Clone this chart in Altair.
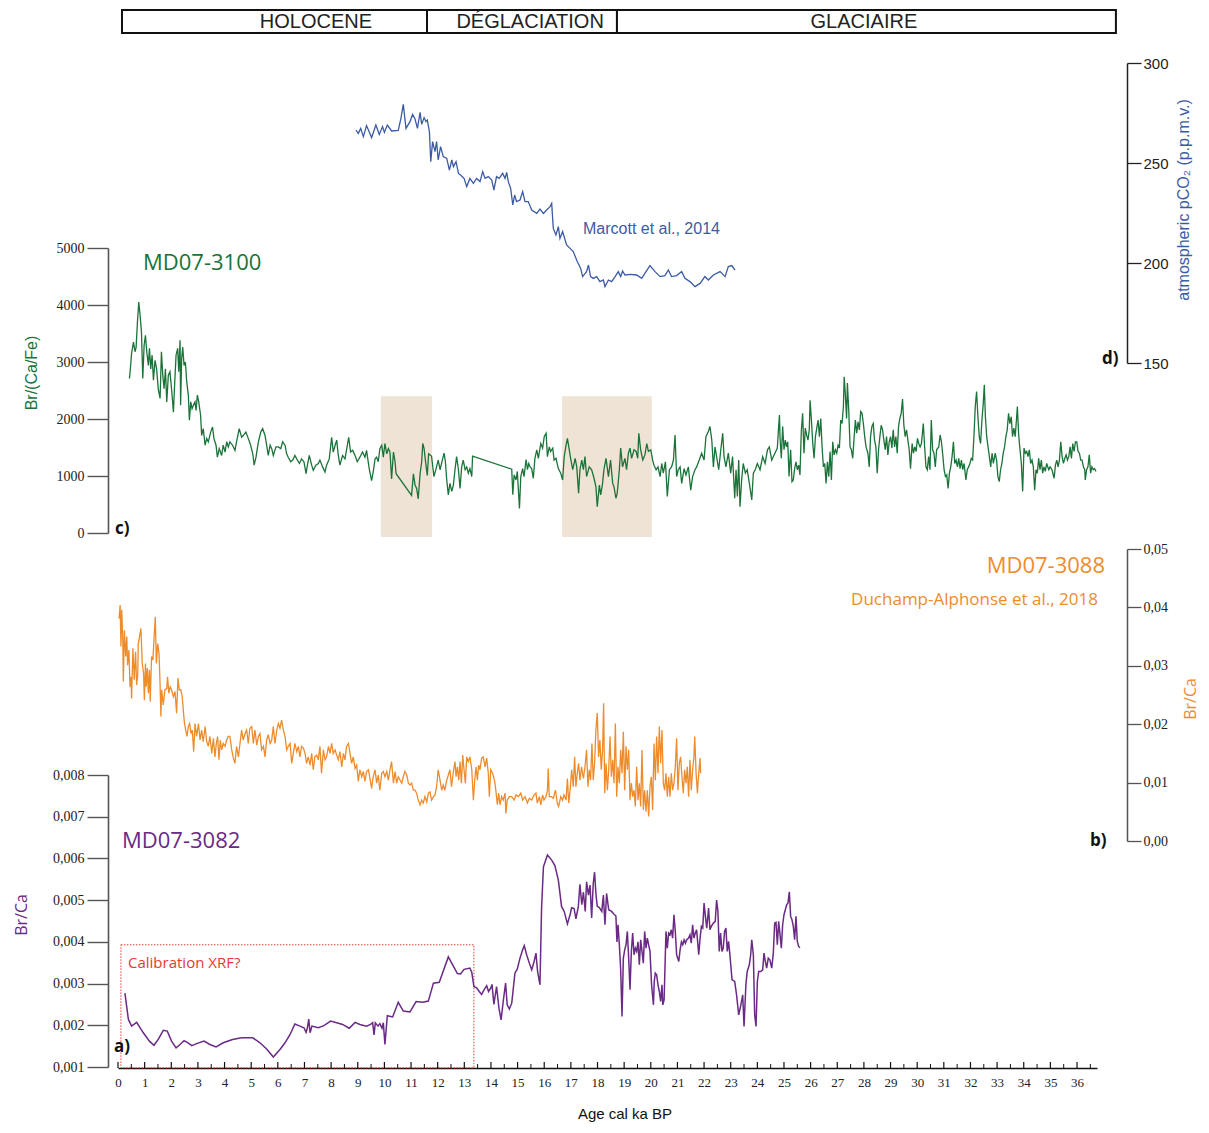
import altair as alt
import pandas as pd

# ---------------- data (age in ka cal BP, value) ----------------
co2_marcott = [(8.93,266.5),(9.02,264.8),(9.11,267.3),(9.21,263.2),(9.33,268.7),(9.52,262.7),(9.68,269.0),(9.81,264.3),(9.93,268.2),(10.00,265.3),(10.11,269.0),(10.27,266.0),(10.52,266.3),(10.62,272.3),(10.71,279.3),(10.81,267.3),(10.96,270.7),(11.06,274.3),(11.15,272.0),(11.24,267.3),(11.34,275.3),(11.40,269.3),(11.49,272.7),(11.56,270.7),(11.61,271.5),(11.69,265.7),(11.74,250.7),(11.81,260.7),(11.90,255.7),(11.96,260.7),(12.02,251.5),(12.11,258.2),(12.21,253.2),(12.34,252.3),(12.44,246.5),(12.53,251.5),(12.59,248.2),(12.69,250.7),(12.78,244.8),(12.86,244.0),(12.99,242.3),(13.09,238.2),(13.21,242.3),(13.34,239.8),(13.46,242.3),(13.59,240.7),(13.69,245.7),(13.78,242.3),(13.90,243.2),(14.03,241.5),(14.11,236.5),(14.21,243.2),(14.31,242.3),(14.44,244.8),(14.53,242.3),(14.59,245.3),(14.65,240.7),(14.74,237.3),(14.82,229.0),(14.89,234.0),(14.96,230.7),(15.09,231.5),(15.19,235.7),(15.28,230.7),(15.40,230.7),(15.53,226.5),(15.72,224.8),(15.84,227.0),(15.97,224.8),(16.09,226.5),(16.22,228.2),(16.28,229.8),(16.34,217.3),(16.44,214.0),(16.53,218.2),(16.59,212.3),(16.69,215.7),(16.84,209.0),(16.97,207.3),(17.09,205.7),(17.24,200.7),(17.37,197.3),(17.44,193.2),(17.59,195.7),(17.66,199.0),(17.74,193.2),(17.84,192.3),(17.97,193.2),(18.09,190.7),(18.22,191.5),(18.28,188.2),(18.41,191.5),(18.53,190.7),(18.66,193.2),(18.78,195.7),(18.87,193.2),(18.94,196.0),(19.03,194.0),(19.22,194.3),(19.47,194.0),(19.66,192.3),(19.82,195.7),(19.97,198.7),(20.16,195.7),(20.35,193.2),(20.53,193.7),(20.66,196.5),(20.78,193.2),(20.97,193.7),(21.16,195.7),(21.28,192.3),(21.47,190.7),(21.66,188.2),(21.85,189.8),(22.03,193.2),(22.16,191.5),(22.35,194.0),(22.60,195.7),(22.79,193.2),(22.91,198.2),(23.04,198.7),(23.16,196.5)]

md3100_brcafe = [(0.43,2710),(0.48,2970),(0.51,3150),(0.58,3350),(0.64,3180),(0.68,3260),(0.73,3700),(0.78,4050),(0.83,3820),(0.88,3530),(0.93,2710),(0.98,3290),(1.03,3470),(1.08,3180),(1.14,2940),(1.18,3240),(1.23,2880),(1.28,3120),(1.33,2680),(1.39,3030),(1.45,2880),(1.51,2530),(1.58,2360),(1.63,3180),(1.68,2770),(1.73,2530),(1.78,2880),(1.83,2300),(1.89,2770),(1.95,2830),(2.01,2530),(2.08,2120),(2.13,2650),(2.18,3120),(2.24,3240),(2.28,2830),(2.33,3380),(2.35,2240),(2.39,3060),(2.43,3260),(2.48,2940),(2.53,3000),(2.58,2650),(2.64,2420),(2.68,1980),(2.73,2300),(2.78,2180),(2.83,2240),(2.89,2300),(2.93,2150),(2.98,2420),(3.03,2300),(3.10,2070),(3.14,1710),(3.20,1830),(3.27,1540),(3.33,1660),(3.39,1600),(3.48,1770),(3.55,1860),(3.60,1660),(3.68,1540),(3.73,1330),(3.80,1480),(3.89,1360),(3.95,1540),(4.02,1420),(4.08,1600),(4.14,1510),(4.20,1600),(4.30,1540),(4.39,1450),(4.45,1600),(4.55,1830),(4.64,1680),(4.70,1710),(4.80,1770),(4.89,1660),(4.98,1540),(5.06,1390),(5.11,1190),(5.18,1330),(5.27,1600),(5.36,1770),(5.43,1830),(5.52,1710),(5.58,1540),(5.64,1360),(5.71,1540),(5.77,1480),(5.83,1360),(5.93,1510),(6.02,1510),(6.11,1480),(6.18,1600),(6.27,1540),(6.33,1390),(6.39,1330),(6.48,1250),(6.56,1280),(6.64,1360),(6.71,1300),(6.81,1220),(6.89,1300),(6.98,1250),(7.06,1040),(7.11,1190),(7.18,1360),(7.27,1190),(7.33,1100),(7.43,1190),(7.52,1220),(7.58,1280),(7.68,1160),(7.77,1070),(7.83,1190),(7.93,1300),(8.02,1680),(8.08,1420),(8.15,1540),(8.21,1630),(8.27,1360),(8.33,1190),(8.43,1360),(8.52,1300),(8.61,1540),(8.66,1680),(8.73,1420),(8.81,1450),(8.90,1360),(8.98,1250),(9.08,1330),(9.18,1420),(9.27,1330),(9.33,1450),(9.43,1130),(9.52,920),(9.58,1070),(9.65,1300),(9.71,1330),(9.77,1250),(9.83,1480),(9.90,1540),(9.96,1330),(10.02,1570),(10.09,1390),(10.15,1480),(10.21,1420),(10.27,950),(10.34,1420),(10.40,1250),(10.44,1040),(11.02,660),(11.09,1040),(11.15,840),(11.21,780),(11.27,600),(11.34,1040),(11.40,1250),(11.44,1570),(11.49,1480),(11.56,1190),(11.61,1010),(11.66,1390),(11.74,1360),
(11.77,1350),(11.86,990),(11.94,1130),(12.02,1280),(12.09,1110),(12.19,1310),(12.24,1400),(12.29,1250),(12.34,930),(12.40,670),(12.46,870),(12.53,730),(12.59,840),(12.65,1110),(12.71,1340),(12.78,1110),(12.84,780),(12.90,1160),(12.96,1280),(13.03,1110),(13.09,1160),(13.15,1050),(13.21,1130),(13.28,990),(13.31,1350),(14.78,1120),(14.82,670),(14.87,1020),(14.94,930),(14.99,1080),(15.07,430),(15.12,990),(15.19,1130),(15.24,990),(15.32,1290),(15.37,1110),(15.42,1220),(15.47,1160),(15.53,1130),(15.59,960),(15.65,1310),(15.72,1460),(15.78,1310),(15.87,1570),(15.94,1490),(16.00,1690),(16.07,1750),(16.12,1340),(16.19,1510),(16.24,1430),(16.32,1490),(16.37,1280),(16.44,1310),(16.53,1130),(16.62,1050),(16.69,930),(16.75,1340),(16.82,1540),(16.87,1660),(16.94,1460),(16.99,1310),(17.07,1110),(17.16,1310),(17.22,1160),(17.29,700),(17.34,1110),(17.41,1280),(17.47,1110),(17.53,1340),(17.59,990),(17.69,1160),(17.78,1110),(17.87,960),(17.94,810),(17.99,460),(18.07,840),(18.12,670),(18.19,870),(18.24,1110),(18.32,1310),(18.41,990),(18.49,1280),(18.57,870),(18.62,810),(18.69,610),(18.74,700),(18.82,1110),(18.87,1490),(18.94,1160),(19.03,1310),(19.09,1110),(19.16,1400),(19.22,1490),(19.28,1310),(19.37,1460),(19.45,1430),(19.51,1310),(19.55,1750),(19.62,1460),(19.70,1280),(19.78,1370),(19.85,1570),(19.91,1430),(20.00,1460),(20.07,1280),(20.12,1190),(20.20,1110),(20.27,1160),(20.35,990),(20.41,1220),(20.47,1050),(20.55,1250),(20.62,640),(20.70,1110),(20.78,1160),(20.85,1280),(20.91,1720),(20.97,990),(21.03,1110),(21.10,1160),(21.16,870),(21.25,1130),(21.32,1020),(21.41,1160),(21.50,750),(21.57,990),(21.66,1110),(21.72,1160),(21.82,1280),(21.91,1400),(22.00,1280),(22.07,1690),(22.16,1780),(22.22,1870),(22.29,1630),(22.35,1160),(22.41,1510),(22.47,1340),(22.55,1110),(22.62,1430),(22.70,1750),(22.75,1340),(22.82,1160),(22.91,1400),(23.00,1050),(23.07,1340),(23.15,610),(23.20,1110),(23.25,640),(23.30,1280),(23.35,460),(23.41,930),(23.47,1220),(23.55,1050),(23.62,1110),(23.70,870),(23.79,580),(23.85,1050),(23.92,1110),(24.00,1220),(24.10,1110),(24.20,1340),(24.29,1220),(24.38,1460),(24.45,1510),(24.54,1280),(24.66,1400),(24.75,1490),(24.80,1870),(24.83,2070),
(24.85,1690),(24.90,1310),(24.95,1870),(25.00,1460),(25.05,1630),(25.10,1510),(25.14,1600),(25.19,990),(25.25,1460),(25.30,900),(25.35,930),(25.40,1130),(25.45,1250),(25.50,1110),(25.55,1190),(25.60,1020),(25.65,1780),(25.70,2100),(25.75,1400),(25.80,1840),(25.85,1720),(25.90,1630),(25.95,1810),(25.98,2330),(26.03,1980),(26.08,1570),(26.13,1310),(26.18,1690),(26.23,1840),(26.28,1980),(26.33,1690),(26.38,2010),(26.43,1510),(26.48,1160),(26.53,1220),(26.58,870),(26.63,1250),(26.68,990),(26.73,1430),(26.78,930),(26.83,1600),(26.88,1370),(26.93,1460),(26.98,1400),(27.03,1540),(27.08,1490),(27.13,1980),(27.18,1920),(27.23,2220),(27.26,2740),(27.30,2450),(27.35,2010),(27.38,2630),(27.43,2160),(27.48,1510),(27.53,1460),(27.58,1310),(27.63,1660),(27.68,1980),(27.73,1750),(27.78,1950),(27.83,1810),(27.88,2130),(27.93,2100),(27.98,1920),(28.03,1690),(28.08,1510),(28.15,1400),(28.20,1160),(28.25,1690),(28.30,1870),(28.35,1920),(28.40,1630),(28.45,1510),(28.50,1050),(28.55,1460),(28.60,1690),(28.65,1890),(28.70,1810),(28.75,1630),(28.80,1460),(28.85,1690),(28.90,1370),(28.95,1600),(29.00,1690),(29.05,1490),(29.10,1810),(29.15,1510),(29.20,1690),(29.25,1400),(29.30,1870),(29.35,2010),(29.40,2100),(29.45,2350),(29.50,1890),(29.55,1690),(29.60,1810),(29.65,1630),(29.70,1460),(29.75,1130),(29.81,1570),(29.86,1400),(29.91,1510),(29.96,1430),(30.01,1660),(30.06,1570),(30.11,1510),(30.16,1570),(30.23,1920),(30.28,1510),(30.33,1160),(30.38,1110),(30.43,1340),(30.48,1110),(30.53,1980),(30.58,1460),(30.63,1400),(30.68,1160),(30.73,1460),(30.81,1510),(30.86,1720),(30.91,1600),(30.96,1370),(31.01,1110),(31.06,990),(31.11,1020),(31.16,780),(31.21,1050),(31.26,1160),(31.31,1340),(31.36,1600),(31.41,1220),(31.46,1280),(31.51,1160),(31.56,1310),(31.61,1130),(31.66,1280),(31.71,1110),(31.76,1220),(31.83,930),(31.88,1110),(31.93,1160),(31.98,1220),(32.03,1310),(32.08,1280),(32.13,1690),(32.18,2220),(32.23,2480),(32.28,2040),(32.33,1690),(32.38,1570),(32.43,1980),(32.48,2270),(32.52,2600),(32.56,2040),(32.61,1690),(32.66,1510),(32.71,1340),(32.76,1160),(32.81,1400),(32.86,1220),(32.93,1400),(32.98,1280),(33.03,990),(33.08,900),(33.13,1110),(33.18,1220),(33.23,1400),(33.28,1510),(33.33,1690),(33.38,1810),(33.43,2100),(33.48,1920),(33.53,2040),(33.58,1690),(33.63,1840),(33.68,1690),(33.73,2010),(33.76,2220),(33.81,1720),(33.86,1460),(33.91,1220),(33.96,730),(34.01,1490),(34.06,1400),(34.11,1430),(34.16,1340),(34.21,1460),(34.26,1220),(34.31,1280),(34.36,1160),(34.41,750),(34.46,1110),(34.51,1050),(34.56,1310),(34.61,1110),(34.66,1280),(34.71,1050),(34.76,1160),(34.81,1080),(34.86,1220),(34.94,1110),(34.99,1160),(35.06,1110),(35.14,960),(35.19,1190),(35.24,1280),(35.29,1160),(35.34,1280),(35.39,1600),(35.44,1340),(35.49,1220),(35.54,1310),(35.59,1370),(35.64,1280),(35.69,1340),(35.74,1510),(35.79,1310),(35.84,1570),(35.89,1430),(35.94,1600),(35.99,1600),(36.04,1430),(36.09,1400),(36.14,1280),(36.19,1280),(36.24,1160),(36.29,1110),(36.31,930),(36.36,1110),(36.41,1160),(36.46,1370),(36.51,1050),(36.56,1160),(36.61,1110),(36.66,1130),(36.71,1080)]

md3088_brca = [(0.04,0.0381),(0.08,0.0404),(0.11,0.0333),(0.14,0.0396),(0.18,0.0344),(0.20,0.0273),(0.24,0.0361),(0.29,0.0316),(0.33,0.0350),(0.36,0.0301),(0.41,0.0327),(0.45,0.0264),(0.49,0.0281),(0.51,0.0244),(0.56,0.0330),(0.61,0.0276),(0.66,0.0324),(0.70,0.0267),(0.74,0.0284),(0.76,0.0338),(0.81,0.0350),(0.86,0.0364),(0.91,0.0304),(0.96,0.0287),(0.99,0.0241),(1.03,0.0304),(1.06,0.0264),(1.10,0.0296),(1.14,0.0253),(1.18,0.0293),(1.21,0.0239),(1.26,0.0316),(1.31,0.0310),(1.36,0.0353),(1.40,0.0384),(1.44,0.0304),(1.49,0.0338),(1.54,0.0321),(1.58,0.0267),(1.61,0.0213),(1.64,0.0259),(1.70,0.0233),(1.76,0.0259),(1.83,0.0261),(1.86,0.0281),(1.91,0.0253),(1.96,0.0264),(2.01,0.0259),(2.08,0.0247),(2.14,0.0256),(2.20,0.0219),(2.25,0.0279),(2.30,0.0259),(2.36,0.0259),(2.41,0.0247),(2.46,0.0219),(2.49,0.0204),(2.54,0.0190),(2.59,0.0179),(2.64,0.0196),(2.69,0.0201),(2.74,0.0184),(2.79,0.0190),(2.84,0.0153),(2.89,0.0201),(2.95,0.0179),(3.02,0.0201),(3.08,0.0173),(3.14,0.0190),(3.20,0.0170),(3.27,0.0196),(3.33,0.0170),(3.39,0.0162),(3.45,0.0179),(3.52,0.0150),(3.58,0.0176),(3.64,0.0144),(3.69,0.0167),(3.74,0.0179),(3.79,0.0139),(3.84,0.0173),(3.89,0.0156),(3.95,0.0167),(4.02,0.0162),(4.08,0.0173),(4.14,0.0179),(4.20,0.0179),(4.27,0.0156),(4.33,0.0142),(4.39,0.0133),(4.45,0.0162),(4.52,0.0144),(4.58,0.0167),(4.64,0.0190),(4.70,0.0173),(4.77,0.0184),(4.83,0.0190),(4.89,0.0167),(4.95,0.0193),(5.02,0.0196),(5.08,0.0167),(5.14,0.0190),(5.21,0.0164),(5.27,0.0179),(5.33,0.0184),(5.39,0.0156),(5.46,0.0162),(5.52,0.0144),(5.58,0.0173),(5.64,0.0182),(5.71,0.0167),(5.77,0.0173),(5.83,0.0196),(5.89,0.0167),(5.96,0.0190),(6.02,0.0201),(6.08,0.0193),(6.14,0.0207),(6.21,0.0190),(6.27,0.0179),(6.33,0.0156),(6.39,0.0162),(6.46,0.0167),(6.52,0.0133),(6.58,0.0150),(6.64,0.0167),(6.71,0.0153),(6.77,0.0162),(6.83,0.0144),(6.89,0.0162),(6.96,0.0159),(7.02,0.0150),(7.08,0.0133),(7.14,0.0144),(7.21,0.0130),(7.27,0.0150),(7.33,0.0122),(7.39,0.0144),(7.46,0.0147),(7.52,0.0139),(7.58,0.0162),(7.64,0.0116),(7.71,0.0156),(7.77,0.0139),(7.83,0.0144),(7.90,0.0162),(7.96,0.0150),(8.02,0.0167),(8.08,0.0150),(8.15,0.0156),(8.21,0.0147),(8.27,0.0139),(8.33,0.0153),(8.40,0.0127),(8.46,0.0150),(8.52,0.0139),(8.58,0.0162),(8.65,0.0167),(8.71,0.0150),(8.77,0.0133),(8.83,0.0144),(8.90,0.0124),(8.96,0.0130),(9.02,0.0102),(9.08,0.0122),(9.15,0.0110),(9.21,0.0119),(9.27,0.0102),(9.33,0.0119),(9.40,0.0122),(9.46,0.0107),(9.52,0.0090),(9.58,0.0110),(9.65,0.0122),(9.71,0.0099),(9.77,0.0113),(9.83,0.0087),(9.90,0.0116),(9.96,0.0119),(10.02,0.0110),(10.09,0.0119),(10.15,0.0104),(10.21,0.0122),(10.27,0.0136),(10.34,0.0099),(10.40,0.0119),(10.46,0.0099),(10.52,0.0110),(10.59,0.0104),(10.65,0.0099),(10.71,0.0110),(10.77,0.0119),(10.84,0.0113),(10.90,0.0099),(10.96,0.0096),(11.02,0.0099),(11.09,0.0087),(11.15,0.0087),(11.21,0.0082),(11.27,0.0070),(11.34,0.0062),(11.40,0.0070),(11.46,0.0065),(11.52,0.0076),(11.59,0.0067),(11.65,0.0082),(11.71,0.0084),(11.77,0.0070),(11.84,0.0076),(11.90,0.0079),(11.96,0.0093),(12.02,0.0122),(12.09,0.0104),(12.15,0.0087),
(12.21,0.0096),(12.27,0.0087),(12.34,0.0104),(12.40,0.0113),(12.46,0.0122),(12.52,0.0093),(12.59,0.0119),(12.65,0.0136),(12.69,0.0110),(12.74,0.0127),(12.79,0.0104),(12.84,0.0136),(12.89,0.0099),(12.94,0.0147),(12.99,0.0122),(13.04,0.0099),(13.09,0.0144),(13.15,0.0136),(13.21,0.0144),(13.28,0.0122),(13.34,0.0070),(13.39,0.0104),(13.44,0.0127),(13.49,0.0104),(13.54,0.0130),(13.59,0.0122),(13.65,0.0142),(13.71,0.0144),(13.78,0.0127),(13.84,0.0142),(13.90,0.0116),(13.94,0.0076),(13.99,0.0122),(14.06,0.0116),(14.14,0.0102),(14.19,0.0084),(14.24,0.0062),(14.29,0.0082),(14.34,0.0062),(14.40,0.0076),(14.46,0.0070),(14.53,0.0082),(14.56,0.0047),(14.61,0.0070),(14.69,0.0076),(14.78,0.0076),(14.87,0.0070),(14.94,0.0079),(15.03,0.0076),(15.12,0.0082),(15.19,0.0070),(15.28,0.0076),(15.37,0.0065),(15.44,0.0073),(15.53,0.0070),(15.62,0.0079),(15.69,0.0082),(15.74,0.0065),(15.82,0.0076),(15.87,0.0062),(15.94,0.0079),(15.99,0.0070),(16.07,0.0076),(16.12,0.0087),(16.15,0.0124),(16.19,0.0076),(16.27,0.0076),(16.34,0.0073),(16.42,0.0087),(16.49,0.0065),(16.54,0.0059),(16.62,0.0076),(16.69,0.0070),(16.74,0.0079),(16.82,0.0070),(16.87,0.0107),(16.92,0.0065),(16.97,0.0087),(17.03,0.0122),(17.09,0.0093),(17.14,0.0144),(17.19,0.0093),(17.24,0.0116),(17.29,0.0133),(17.34,0.0104),(17.40,0.0127),(17.47,0.0107),(17.53,0.0127),(17.59,0.0156),(17.64,0.0093),(17.69,0.0122),(17.74,0.0104),(17.79,0.0167),(17.84,0.0104),(17.89,0.0133),(17.94,0.0190),(17.99,0.0219),(18.04,0.0144),(18.09,0.0173),(18.14,0.0122),(18.19,0.0156),(18.23,0.0236),(18.27,0.0082),(18.32,0.0133),(18.37,0.0087),(18.42,0.0122),(18.47,0.0179),(18.52,0.0110),(18.57,0.0139),(18.62,0.0099),(18.67,0.0201),(18.72,0.0076),(18.77,0.0127),(18.82,0.0099),(18.87,0.0156),(18.92,0.0116),(18.97,0.0187),(19.02,0.0087),(19.07,0.0162),(19.12,0.0122),(19.17,0.0156),(19.22,0.0070),(19.27,0.0099),(19.32,0.0076),(19.37,0.0087),(19.42,0.0059),(19.47,0.0127),(19.52,0.0070),(19.57,0.0099),(19.62,0.0059),(19.67,0.0156),(19.72,0.0053),(19.77,0.0087),(19.82,0.0050),(19.87,0.0087),(19.92,0.0042),(19.97,0.0093),(20.02,0.0110),(20.07,0.0053),(20.12,0.0167),(20.17,0.0104),(20.22,0.0179),(20.27,0.0116),(20.32,0.0196),(20.37,0.0133),(20.42,0.0190),(20.47,0.0099),(20.52,0.0087),(20.57,0.0116),(20.62,0.0076),(20.67,0.0110),(20.72,0.0076),(20.77,0.0116),(20.82,0.0087),(20.87,0.0099),(20.92,0.0127),(20.97,0.0176),(21.02,0.0087),(21.07,0.0133),(21.12,0.0144),(21.17,0.0110),(21.22,0.0082),(21.27,0.0122),(21.32,0.0099),(21.37,0.0127),(21.42,0.0076),(21.47,0.0139),(21.52,0.0087),(21.57,0.0122),(21.62,0.0144),(21.65,0.0179),(21.70,0.0116),(21.75,0.0082),(21.80,0.0116),(21.85,0.0142),(21.87,0.0116)]

md3082_brca = [(0.26,0.00277),(0.39,0.00214),(0.51,0.00198),(0.70,0.00207),(0.95,0.00182),(1.18,0.00162),(1.35,0.00152),(1.51,0.00166),(1.70,0.00188),(1.85,0.00186),(2.01,0.00162),(2.18,0.00146),(2.33,0.00154),(2.48,0.00163),(2.60,0.00159),(2.77,0.00151),(2.95,0.00156),(3.23,0.00162),(3.45,0.00154),(3.68,0.00148),(3.95,0.00158),(4.30,0.00166),(4.64,0.00170),(5.06,0.00170),(5.33,0.00158),(5.58,0.00143),(5.83,0.00124),(6.08,0.00142),(6.27,0.00158),(6.46,0.00178),(6.64,0.00203),(6.83,0.00198),(6.98,0.00194),(7.06,0.00183),(7.11,0.00194),(7.16,0.00215),(7.21,0.00182),(7.28,0.00198),(7.52,0.00194),(7.73,0.00199),(7.98,0.00210),(8.21,0.00206),(8.43,0.00202),(8.68,0.00193),(8.90,0.00207),(9.08,0.00202),(9.33,0.00198),(9.48,0.00202),(9.56,0.00206),(9.61,0.00177),(9.66,0.00206),(9.76,0.00198),(9.83,0.00204),(9.91,0.00193),(9.96,0.00206),(10.02,0.00154),(10.11,0.00223),(10.31,0.00220),(10.52,0.00255),(10.71,0.00234),(10.96,0.00232),(11.19,0.00257),(11.44,0.00255),(11.65,0.00258),(11.84,0.00301),(12.06,0.00303),(12.40,0.00364),(12.74,0.00324),(12.86,0.00323),(12.99,0.00334),(13.21,0.00337),(13.28,0.00327),
(13.36,0.00293),(13.46,0.00290),(13.56,0.00281),(13.65,0.00274),(13.74,0.00285),(13.84,0.00295),(13.91,0.00281),(13.99,0.00289),(14.04,0.00298),(14.11,0.00250),(14.21,0.00293),(14.30,0.00241),(14.38,0.00213),(14.46,0.00257),(14.55,0.00301),(14.61,0.00249),(14.69,0.00239),(14.78,0.00253),(14.84,0.00289),(14.90,0.00325),(14.99,0.00335),(15.09,0.00361),(15.19,0.00381),(15.25,0.00391),(15.34,0.00369),(15.44,0.00349),(15.53,0.00333),(15.62,0.00353),(15.69,0.00373),(15.75,0.00329),(15.84,0.00297),(15.90,0.00481),(15.97,0.00580),(16.12,0.00608),(16.28,0.00596),(16.40,0.00583),(16.53,0.00548),(16.65,0.00485),(16.75,0.00473),(16.87,0.00443),(16.97,0.00465),(17.03,0.00482),(17.12,0.00480),(17.19,0.00455),(17.28,0.00485),(17.34,0.00538),(17.41,0.00489),(17.47,0.00519),(17.54,0.00473),(17.59,0.00544),(17.66,0.00512),(17.72,0.00536),(17.78,0.00457),(17.84,0.00540),(17.89,0.00567),(17.94,0.00516),(17.99,0.00485),(18.07,0.00482),(18.16,0.00473),(18.22,0.00512),(18.28,0.00441),(18.34,0.00516),(18.42,0.00477),(18.53,0.00473),(18.62,0.00466),(18.69,0.00462),(18.73,0.00400),(18.77,0.00441),(18.82,0.00393),(18.87,0.00333),(18.92,0.00221),(18.97,0.00361),(19.02,0.00381),(19.07,0.00393),(19.12,0.00425),(19.17,0.00361),(19.22,0.00285),(19.27,0.00377),(19.32,0.00421),(19.37,0.00369),(19.42,0.00385),(19.47,0.00377),(19.52,0.00400),(19.57,0.00345),(19.62,0.00405),(19.67,0.00377),(19.72,0.00349),(19.77,0.00425),(19.82,0.00385),(19.87,0.00409),(19.92,0.00393),(19.97,0.00377),(20.03,0.00297),(20.10,0.00249),(20.13,0.00305),(20.17,0.00325),(20.22,0.00321),(20.27,0.00297),(20.32,0.00281),(20.37,0.00257),(20.42,0.00297),(20.45,0.00249),(20.50,0.00261),(20.57,0.00425),(20.62,0.00385),(20.67,0.00421),(20.72,0.00417),(20.77,0.00429),(20.82,0.00409),(20.87,0.00465),(20.92,0.00425),(20.97,0.00369),(21.05,0.00353),(21.10,0.00381),(21.15,0.00400),(21.20,0.00393),(21.25,0.00405),(21.30,0.00397),(21.35,0.00405),(21.42,0.00409),(21.47,0.00417),(21.52,0.00397),(21.57,0.00441),(21.62,0.00409),(21.67,0.00421),(21.72,0.00429),(21.80,0.00369),(21.85,0.00409),(21.90,0.00437),(21.95,0.00433),(22.00,0.00493),(22.05,0.00461),(22.10,0.00433),(22.17,0.00481),(22.22,0.00429),(22.27,0.00437),(22.35,0.00445),(22.42,0.00449),(22.47,0.00500),(22.52,0.00473),(22.57,0.00377),(22.62,0.00421),(22.67,0.00377),(22.72,0.00385),(22.77,0.00425),(22.82,0.00433),(22.87,0.00377),(22.92,0.00401),(22.97,0.00369),(23.05,0.00309),(23.15,0.00305),(23.22,0.00273),(23.30,0.00225),(23.37,0.00245),(23.45,0.00273),(23.50,0.00197),(23.57,0.00297),(23.62,0.00329),(23.70,0.00345),(23.75,0.00369),(23.79,0.00405),(23.85,0.00369),(23.90,0.00225),(23.95,0.00197),(24.00,0.00305),(24.05,0.00329),(24.13,0.00329),(24.20,0.00333),(24.25,0.00373),(24.30,0.00353),(24.35,0.00337),(24.41,0.00361),(24.47,0.00357),(24.54,0.00337),(24.60,0.00373),(24.65,0.00445),(24.70,0.00447),(24.75,0.00393),(24.80,0.00449),(24.85,0.00418),(24.90,0.00385),(24.95,0.00441),(25.00,0.00465),(25.05,0.00477),(25.10,0.00489),(25.15,0.00493),(25.20,0.00520),(25.25,0.00461),(25.30,0.00453),(25.35,0.00437),(25.40,0.00405),(25.45,0.00461),(25.50,0.00401),(25.55,0.00389),(25.60,0.00386)]

periods = ["HOLOCENE", "DÉGLACIATION", "GLACIAIRE"]
period_start = [0.15, 11.6, 18.73]
period_end = [11.6, 18.73, 37.46]
period_label_at = [7.43, 15.47, 28.0]

shade_start = [9.87, 16.67]
shade_end = [11.79, 20.04]
shade_low, shade_high = -70, 2400          # in Br/(Ca/Fe) units

calib_age = [0.11, 13.36]
calib_brca = [0.00098, 0.00393]

x_labels = list(range(0, 37))

# ---------------- styling ----------------
GREEN = "#1B7339"
BLUE = "#3B5BA5"
ORANGE = "#EE8C2C"
PURPLE = "#6A2A85"
RED = "#E53A2F"

W, H = 979, 1060
xs = alt.Scale(domain=[0, 36.75], nice=False, zero=False)
x_axis = alt.Axis(values=x_labels, ticks=False, grid=False, title=None,
                  domainColor="#111", domainWidth=1.4,
                  labelFont="Liberation Serif", labelFontSize=13, labelColor="#222",
                  labelPadding=8, labelFlush=False, labelOverlap=False)

def df(pairs, col):
    return pd.DataFrame(pairs, columns=["age", col])

green_scale = alt.Scale(domain=[0, 5000], range=[525, 240], nice=False, zero=False)
co2_scale = alt.Scale(domain=[150, 300], range=[355, 55], nice=False, zero=False)
orange_scale = alt.Scale(domain=[0, 0.05], range=[833, 541], nice=False, zero=False)
purple_scale = alt.Scale(domain=[0.001, 0.008], range=[1059, 767], nice=False, zero=False)

def left_axis(values, expr):
    return alt.Axis(orient="left", offset=10, values=values, labelExpr=expr,
                    tickSize=21, tickWidth=1.4, tickColor="#555",
                    domainColor="#555", domainWidth=1.6, grid=False, title=None,
                    labelFont="Liberation Serif", labelFontSize=14, labelColor="#222",
                    labelPadding=3, labelFlush=False, labelOverlap=False)

def right_axis(values, expr, font, size, color):
    return alt.Axis(orient="right", offset=30, values=values, labelExpr=expr,
                    tickSize=14, tickWidth=1.3, tickColor=color,
                    domainColor=color, domainWidth=1.5, grid=False, title=None,
                    labelFont=font, labelFontSize=size, labelColor="#222",
                    labelPadding=2, labelFlush=False, labelOverlap=False)

# shaded intervals
shade_df = pd.DataFrame({"x0": shade_start, "x1": shade_end,
                         "y0": [shade_low] * 2, "y1": [shade_high] * 2})
shade = alt.Chart(shade_df).mark_rect(color="#EFE3D5").encode(
    x=alt.X("x0:Q", scale=xs, axis=x_axis), x2="x1:Q",
    y=alt.Y("y0:Q", scale=green_scale, axis=None), y2="y1:Q")

calib_df = pd.DataFrame({"x0": [calib_age[0]], "x1": [calib_age[1]],
                         "y0": [calib_brca[0]], "y1": [calib_brca[1]]})
calib = alt.Chart(calib_df).mark_rect(fillOpacity=0, stroke=RED, strokeWidth=1,
                                      strokeDash=[1.5, 1.5]).encode(
    x=alt.X("x0:Q", scale=xs, axis=x_axis), x2="x1:Q",
    y=alt.Y("y0:Q", scale=purple_scale, axis=None), y2="y1:Q")

period_df = pd.DataFrame({"name": periods, "start": period_start, "end": period_end,
                          "lab": period_label_at})
bar = alt.Chart(period_df).mark_rect(fill="white", stroke="#111", strokeWidth=2).encode(
    x=alt.X("start:Q", scale=xs, axis=x_axis), x2="end:Q",
    y=alt.value(2), y2=alt.value(25))
bar_text = alt.Chart(period_df).mark_text(font="Liberation Sans", fontSize=20,
                                          color="#222", baseline="middle").encode(
    x=alt.X("lab:Q", scale=xs, axis=x_axis), y=alt.value(14), text="name:N")

green = alt.Chart(df(md3100_brcafe, "v")).mark_line(color=GREEN, strokeWidth=1.3).encode(
    x=alt.X("age:Q", scale=xs, axis=x_axis),
    y=alt.Y("v:Q", scale=green_scale,
            axis=left_axis([0, 1000, 2000, 3000, 4000, 5000], "format(datum.value, 'd')")))

blue = alt.Chart(df(co2_marcott, "v")).mark_line(color=BLUE, strokeWidth=1.3).encode(
    x=alt.X("age:Q", scale=xs, axis=x_axis),
    y=alt.Y("v:Q", scale=co2_scale,
            axis=right_axis([150, 200, 250, 300], "format(datum.value, 'd')",
                            "Liberation Sans", 15, "#222")))

orange = alt.Chart(df(md3088_brca, "v")).mark_line(color=ORANGE, strokeWidth=1.3).encode(
    x=alt.X("age:Q", scale=xs, axis=x_axis),
    y=alt.Y("v:Q", scale=orange_scale,
            axis=right_axis([0, 0.01, 0.02, 0.03, 0.04, 0.05],
                            "replace(format(datum.value, '.2f'), '.', ',')",
                            "Liberation Serif", 14, "#555")))

purple = alt.Chart(df(md3082_brca, "v")).mark_line(color=PURPLE, strokeWidth=1.5).encode(
    x=alt.X("age:Q", scale=xs, axis=x_axis),
    y=alt.Y("v:Q", scale=purple_scale,
            axis=left_axis([0.001, 0.002, 0.003, 0.004, 0.005, 0.006, 0.007, 0.008],
                           "replace(format(datum.value, '.3f'), '.', ',')")))

major_ticks = alt.Chart(pd.DataFrame({"t": [float(v) for v in x_labels]})).mark_rule(
    color="#111", strokeWidth=1.2).encode(
    x=alt.X("t:Q", scale=xs, axis=x_axis), y=alt.value(H), y2=alt.value(H - 6))
minor_ticks = alt.Chart(pd.DataFrame({"t": [v + 0.5 for v in x_labels]})).mark_rule(
    color="#111", strokeWidth=1).encode(
    x=alt.X("t:Q", scale=xs, axis=x_axis), y=alt.value(H), y2=alt.value(H - 4))

def label(text, x, y, color="#111", size=14, font="Open Sans", weight="normal",
          align="left", angle=0):
    return alt.Chart(alt.Data(values=[{}])).mark_text(
        text=text, color=color, fontSize=size, font=font, fontWeight=weight,
        align=align, angle=angle, baseline="middle").encode(
        x=alt.value(x), y=alt.value(y))

labels = [
    label("MD07-3100", 25, 255, GREEN, 22),
    label("Marcott et al., 2014", 465, 221, BLUE, 16, "Liberation Sans"),
    label("MD07-3088", 987, 558, ORANGE, 22, align="right"),
    label("Duchamp-Alphonse et al., 2018", 980, 592, ORANGE, 17, align="right"),
    label("MD07-3082", 4, 833, PURPLE, 22),
    label("Calibration XRF?", 10, 955, RED, 15),
    label("a)", -4, 1039, "#111", 17, weight="bold"),
    label("b)", 972, 833, "#111", 17, weight="bold"),
    label("c)", -3, 521, "#111", 17, weight="bold"),
    label("d)", 984, 351, "#111", 17, weight="bold"),
    label("Br/(Ca/Fe)", -86, 365, GREEN, 16, "Liberation Sans", align="center", angle=270),
    label("Br/Ca", -96, 907, PURPLE, 16, "Open Sans", align="center", angle=270),
    label("Br/Ca", 1073, 691, ORANGE, 16, "Open Sans", align="center", angle=270),
    label("atmospheric pCO₂ (p.p.m.v.)", 1066, 192, BLUE, 16, "Liberation Sans",
          align="center", angle=270),
    label("Age cal ka BP", 507, 1106, "#111", 15, "Liberation Sans", align="center"),
]

chart = alt.layer(
    shade, calib, bar, bar_text, green, blue, orange, purple,
    major_ticks, minor_ticks, *labels
).resolve_scale(y="independent").properties(
    width=W, height=H,
    padding={"left": 110, "top": 0, "right": 104, "bottom": 57},
    autosize=alt.AutoSizeParams(type="none"),
    background="white",
).configure_view(stroke=None)

chart.save("out.html", embed_options={"renderer": "svg", "actions": False})
